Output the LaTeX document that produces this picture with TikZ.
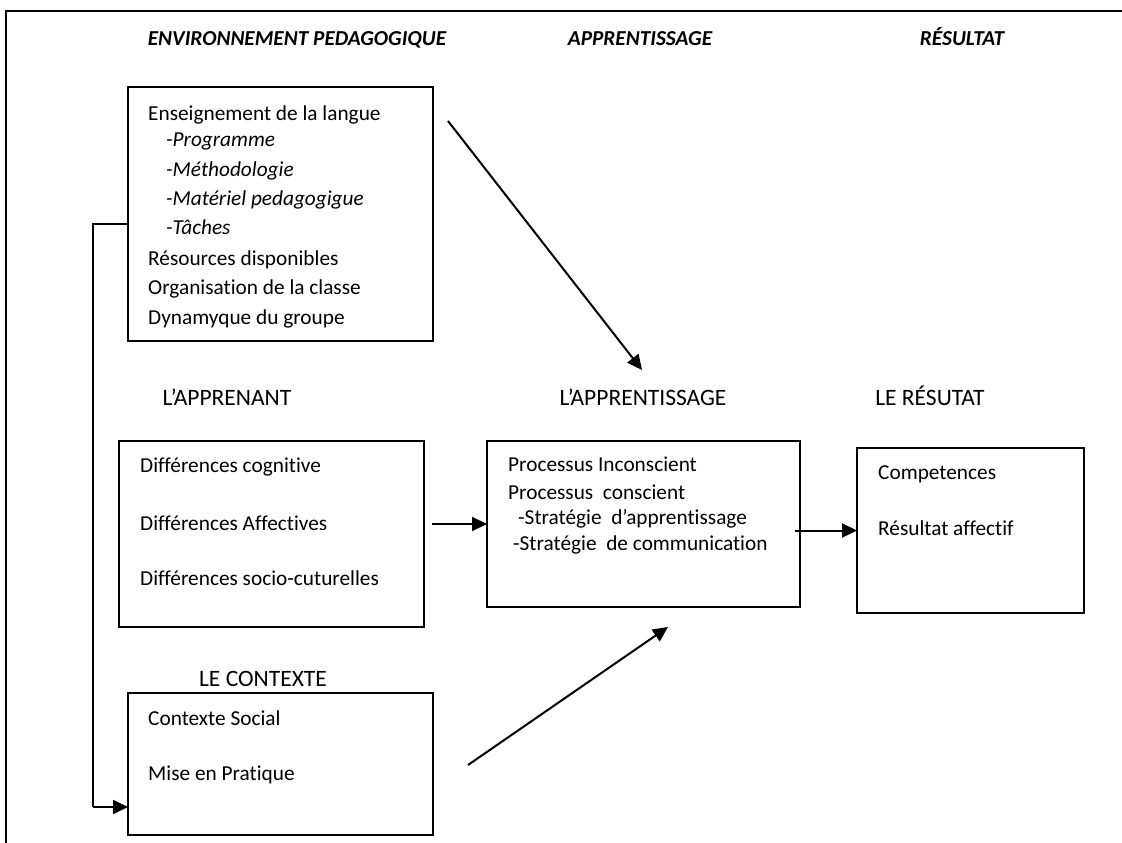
\documentclass[tikz,border=0pt]{standalone}
\usepackage{fontspec}
\setmainfont[Ligatures=NoCommon]{Carlito}
\usetikzlibrary{arrows.meta}
\begin{document}
\begin{tikzpicture}[x=1pt,y=-1pt,
  box/.style={draw, line width=1.5pt, inner sep=0pt, outer sep=0pt, anchor=north west},
  txt/.style={anchor=base west, inner sep=0pt, font=\fontsize{21.3}{25}\selectfont},
  itxt/.style={txt, font=\fontsize{21.3}{25}\selectfont\itshape},
  lab/.style={anchor=base, inner sep=0pt, font=\fontsize{23.5}{28}\selectfont},
  hdr/.style={anchor=base, inner sep=0pt, font=\fontsize{21.3}{25}\selectfont\bfseries\itshape},
  arr/.style={-{Triangle[length=15pt,width=14pt]}, line width=2pt},
  conn/.style={line width=1.6pt}]
\useasboundingbox (0,0) rectangle (1122,843);
\fill[white] (0,0) rectangle (1122,843);
% frame
\draw[line width=2.5pt] (6,843) -- (6,11) -- (1122,11);
% headers
\node[hdr] (h1) at (297,46) {ENVIRONNEMENT PEDAGOGIQUE};
\node[hdr] (h2) at (640,46) {APPRENTISSAGE};
\node[hdr] (h3) at (962,46) {RÉSULTAT};
% box 1
\node[box, minimum width=305pt, minimum height=254pt] (b1) at (128,87) {};
\node[txt] (t11) at (148,120) {Enseignement de la langue};
\node[itxt] (t12) at (166,146) {-Programme};
\node[itxt] (t13) at (166,176) {-Méthodologie};
\node[itxt] (t14) at (166,205) {-Matériel pedagogigue};
\node[itxt] (t15) at (166,234) {-Tâches};
\node[txt] (t16) at (148,265) {Résources disponibles};
\node[txt] (t17) at (148,294) {Organisation de la classe};
\node[txt] (t18) at (148,324) {Dynamyque du groupe};
% labels
\node[lab] (l1) at (227,405) {L’APPRENANT};
\node[lab] (l2) at (643,405) {L’APPRENTISSAGE};
\node[lab] (l3) at (930,405) {LE RÉSUTAT};
\node[lab] (l4) at (263,686) {LE CONTEXTE};
% box apprenant
\node[box, minimum width=305pt, minimum height=186pt] (b2) at (119,441) {};
\node[txt] (t21) at (140,472) {Différences cognitive};
\node[txt] (t22) at (140,530) {Différences Affectives};
\node[txt] (t23) at (140,585) {Différences socio-cuturelles};
% box apprentissage
\node[box, minimum width=313pt, minimum height=166pt] (b3) at (487,441) {};
\node[txt] (t31) at (508,471) {Processus Inconscient};
\node[txt] (t32) at (508,499) {Processus\ \ conscient};
\node[txt] (t33) at (518,524) {-Stratégie\ \ d’apprentissage};
\node[txt] (t34) at (513,550) {-Stratégie\ \ de communication};
% box resultat
\node[box, minimum width=227pt, minimum height=165pt] (b4) at (857,448) {};
\node[txt] (t41) at (878,479) {Competences};
\node[txt] (t42) at (878,535) {Résultat affectif};
% box contexte
\node[box, minimum width=305pt, minimum height=142pt] (b5) at (128,693) {};
\node[txt] (t51) at (148,725) {Contexte Social};
\node[txt] (t52) at (148,780) {Mise en Pratique};
% connectors
\coordinate (a1s) at (448,121);
\coordinate (a1e) at (642,370);
\draw[arr] (a1s) -- (a1e);
\coordinate (a2s) at (432,524);
\draw[arr] (a2s) -- (b3.west);
\coordinate (a3s) at (795,530.5);
\draw[arr] (a3s) -- (b4.west);
\coordinate (a4s) at (468,765);
\coordinate (a4e) at (668,627);
\draw[arr] (a4s) -- (a4e);
\coordinate (k1) at (128,224);
\coordinate (k2) at (93,224);
\coordinate (k3) at (128,807);
\draw[conn] (k1) -- (k2) -- (k2 |- k3);
\draw[arr] (k2 |- k3) -- (k3);
\end{tikzpicture}
\end{document}
